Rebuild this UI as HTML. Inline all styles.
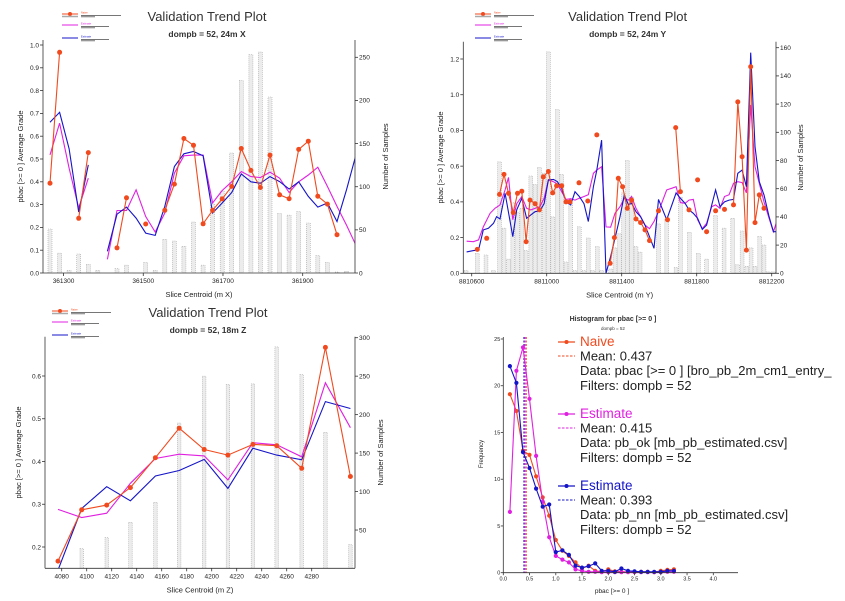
<!DOCTYPE html>
<html><head><meta charset="utf-8"><style>
html,body{margin:0;padding:0;background:#fff;}
svg{display:block;font-family:"Liberation Sans",sans-serif;}
</style></head><body>
<svg id="chart" width="845" height="601" viewBox="0 0 845 601" xmlns="http://www.w3.org/2000/svg"></svg>
<script>
// ---------- Panel 1 (X) data ----------
const p1X=[361266,361290,361314,361338,361362,361386,361410,361434,361458,361482,361506,361530,361554,361578,361602,361626,361650,361674,361698,361722,361746,361770,361794,361818,361842,361866,361890,361914,361938,361962,361986,362010,362034];
const p1Naive=[0.394,0.968,null,0.24,0.528,null,null,0.11,0.33,null,0.215,null,0.275,0.39,0.59,0.56,0.216,0.275,0.325,0.38,0.546,0.45,0.375,0.517,0.343,0.326,0.542,0.578,0.337,0.302,0.168,null,null];
const p1Ok=[0.518,0.657,0.46,0.285,0.416,null,0.06,0.274,0.274,0.365,0.248,0.18,0.263,0.438,0.514,0.517,0.517,0.307,0.362,0.40,0.445,0.423,0.419,0.442,0.416,0.353,0.40,0.43,0.464,0.38,0.292,0.21,0.12];
const p1Nn=[0.661,0.705,0.545,0.267,0.474,null,0.095,0.258,0.289,0.241,0.175,0.165,0.292,0.467,0.523,0.533,0.514,0.263,0.307,0.353,0.434,0.40,0.394,0.423,0.401,0.368,0.40,0.336,0.289,0.307,0.226,0.365,0.52];
const p1Count=[51,23,3,22,10,3,0,5,9,0,12,3,39,37,31,59,9,80,95,139,223,253,256,204,69,67,71,58,20,12,1,2,0];
const p1XTicks=[361300,361500,361700,361900];
const p1YTicks=[0,0.1,0.2,0.3,0.4,0.5,0.6,0.7,0.8,0.9,1.0];
const p1RTicks=[0,50,100,150,200,250];

// ---------- Panel 2 (Y) data ----------
const p2NaiveX=[8810630,8810680,8810748,8810772,8810796,8810822,8810844,8810867,8810890,8810911,8810938,8810961,8810982,8811009,8811032,8811053,8811080,8811103,8811124,8811172,8811219,8811267,8811338,8811361,8811382,8811405,8811430,8811453,8811476,8811501,8811524,8811548,8811596,8811644,8811688,8811713,8811759,8811805,8811853,8811901,8811948,8811996,8812019,8812042,8812065,8812088,8812111,8812134,8812159];
const p2NaiveY=[0.134,0.196,0.442,0.554,0.448,0.34,0.448,0.46,0.177,0.41,0.39,0.355,0.54,0.57,0.45,0.49,0.49,0.40,0.40,0.507,0.405,0.775,0.056,0.2,0.532,0.485,0.364,0.41,0.304,0.284,0.243,0.183,0.35,0.3,0.816,0.457,0.355,0.523,0.233,0.35,0.358,0.383,0.96,0.653,0.13,1.157,0.284,0.439,0.364];
const p2OkX=[8810573,8810609,8810636,8810662,8810698,8810724,8810751,8810778,8810796,8810819,8810840,8810867,8810893,8810915,8810938,8810964,8810986,8811009,8811036,8811057,8811080,8811103,8811128,8811151,8811174,8811199,8811222,8811249,8811267,8811293,8811316,8811341,8811364,8811391,8811414,8811436,8811453,8811476,8811501,8811524,8811548,8811572,8811596,8811640,8811666,8811690,8811713,8811738,8811759,8811782,8811805,8811830,8811853,8811880,8811901,8811924,8811948,8811973,8811996,8812019,8812042,8812065,8812088,8812111,8812134,8812159,8812186,8812209,8812227];
const p2OkY=[0.18,0.177,0.187,0.26,0.336,0.364,0.383,0.467,0.537,0.3,0.39,0.43,0.364,0.355,0.364,0.373,0.42,0.523,0.513,0.5,0.457,0.414,0.418,0.41,0.42,0.43,0.44,0.56,0.578,0.597,0.26,0.258,0.336,0.373,0.42,0.41,0.43,0.364,0.317,0.27,0.25,0.29,0.345,0.467,0.476,0.485,0.396,0.392,0.41,0.414,0.3,0.25,0.28,0.373,0.383,0.364,0.43,0.44,0.504,0.513,0.508,0.45,0.943,0.597,0.504,0.4,0.308,0.233,0.29];
const p2NnX=[8810573,8810609,8810636,8810662,8810689,8810716,8810733,8810751,8810778,8810819,8810840,8810867,8810893,8810915,8810938,8810964,8810986,8811009,8811036,8811057,8811080,8811103,8811128,8811151,8811174,8811199,8811222,8811249,8811267,8811293,8811316,8811341,8811364,8811391,8811414,8811436,8811453,8811476,8811501,8811524,8811548,8811572,8811596,8811640,8811690,8811713,8811738,8811759,8811782,8811805,8811830,8811853,8811901,8811924,8811948,8811973,8811996,8812019,8812042,8812065,8812088,8812111,8812134,8812159,8812186,8812209,8812227];
const p2NnY=[0.12,0.127,0.13,0.243,0.252,0.28,0.317,0.304,0.448,0.205,0.355,0.42,0.308,0.327,0.345,0.35,0.39,0.523,0.526,0.513,0.476,0.4,0.383,0.457,0.43,0.39,0.29,0.485,0.578,0.746,0.0,0.093,0.196,0.317,0.439,0.383,0.392,0.345,0.317,0.27,0.205,0.14,0.414,0.3,0.45,0.42,0.392,0.355,0.336,0.308,0.246,0.27,0.467,0.373,0.4,0.41,0.414,0.56,0.578,0.485,1.235,0.71,0.513,0.439,0.317,0.233,0.233];
const p2BarX=[8810570,8810630,8810676,8810716,8810748,8810772,8810796,8810819,8810844,8810867,8810890,8810915,8810938,8810961,8810986,8811009,8811032,8811057,8811080,8811103,8811128,8811151,8811174,8811199,8811222,8811245,8811270,8811293,8811341,8811364,8811389,8811410,8811430,8811453,8811476,8811498,8811596,8811640,8811690,8811713,8811761,8811809,8811853,8811901,8811946,8811992,8812017,8812042,8812067,8812090,8812111,8812136,8812159,8812182,8812209];
const p2BarN=[2,14,13,2,79,32,10,50,43,46,16,69,63,75,71,157,40,116,70,8,50,2,33,2,25,2,19,2,3,18,28,57,80,54,19,15,35,38,4,54,29,14,10,41,32,39,6,30,5,18,5,26,20,1,1];
const p2XTicks=[8810600,8811000,8811400,8811800,8812200];
const p2YTicks=[0,0.2,0.4,0.6,0.8,1.0,1.2];
const p2RTicks=[0,20,40,60,80,100,120,140,160];

// ---------- Panel 3 (Z) data ----------
const p3X=[4077,4096,4116,4135,4155,4174,4194,4213,4233,4252,4272,4291,4311];
const p3Naive=[0.167,0.287,0.298,0.339,0.409,0.478,0.428,0.415,0.44,0.437,0.384,0.667,0.365];
const p3Ok=[0.288,0.269,0.279,0.349,0.407,0.417,0.413,0.357,0.444,0.439,0.411,0.584,0.479];
const p3Nn=[0.146,0.29,0.341,0.308,0.366,0.379,0.405,0.337,0.431,0.415,0.404,0.54,0.524];
const p3Count=[0,26,40,60,86,189,250,239,240,288,252,177,31];
const p3XTicks=[4080,4100,4120,4140,4160,4180,4200,4220,4240,4260,4280];
const p3YTicks=[0.2,0.3,0.4,0.5,0.6];
const p3RTicks=[50,100,150,200,250,300];

// ---------- Panel 4 histogram data ----------
const hBins=[0.125,0.25,0.375,0.5,0.625,0.75,0.875,1.0,1.125,1.25,1.375,1.5,1.625,1.75,1.875,2.0,2.125,2.25,2.375,2.5,2.625,2.75,2.875,3.0,3.125,3.25];
const hNaive=[19.1,17.3,13.05,12.6,10.3,8.06,6.1,3.5,2.35,1.8,1.1,0.46,0.75,0.2,0.1,0.35,0.15,0.1,0.1,0.1,0.1,0.1,0.05,0.2,0.3,0.35];
const hOk=[6.5,21.6,24.1,18.6,12.5,7.6,3.8,1.8,1.4,1.1,0.35,0.2,0.1,0.1,0.05,0.05,0.05,0.05,0.05,0.05,0.05,0.05,0.05,0.05,0.1,0.1];
const hNn=[22.1,20.3,12.9,11.2,9.0,7.06,7.3,2.2,2.4,1.9,0.75,0.55,0.7,1.0,0.2,0.2,0.1,0.45,0.2,0.15,0.1,0.1,0.1,0.1,0.2,0.2];
const hMeans=[0.437,0.415,0.393];
const hXTicks=[0,0.5,1.0,1.5,2.0,2.5,3.0,3.5,4.0];
const hYTicks=[0,5,10,15,20,25];

const C_NAIVE='#f04a1e', C_OK='#e020e0', C_NN='#1414c8';
const NS='http://www.w3.org/2000/svg';
const svg=document.getElementById('chart');
function el(tag,attrs,parent){const e=document.createElementNS(NS,tag);for(const k in attrs)e.setAttribute(k,attrs[k]);(parent||svg).appendChild(e);return e;}
function lin(d0,d1,r0,r1){return v=>r0+(v-d0)*(r1-r0)/(d1-d0);}
function txt(x,y,s,size,opts,parent){const t=el('text',Object.assign({x:x,y:y,'font-size':size,fill:'#222'},opts||{}),parent);t.textContent=s;return t;}
function linePath(xs,ys,sx,sy,maxGap){let d='';let prev=null;for(let i=0;i<xs.length;i++){if(ys[i]===null||ys[i]===undefined){prev=null;continue;}const px=sx(xs[i]).toFixed(1),py=sy(ys[i]).toFixed(1);if(prev!==null&&xs[i]-prev<=maxGap)d+='L'+px+' '+py;else d+='M'+px+' '+py;prev=xs[i];}return d;}

function trend(cfg){
  const g=el('g',{});
  
  
  const {L,R,T,B,sx,sy,sr}=cfg;
  const cid='clip-'+cfg.name;
  const cp=el('clipPath',{id:cid},g);el('rect',{x:L,y:T-5,width:R-L,height:B-T+5},cp);
  const t=txt((L+R)/2+8,cfg.titleY,'Validation Trend Plot',13,{'text-anchor':'middle',fill:'#333'},g);
  
  
  const st=txt((L+R)/2+8,cfg.titleY+16,cfg.sub,8.5,{'text-anchor':'middle','font-weight':'bold',fill:'#333'},g);
  
  
  const bg=el('g',{'clip-path':'url(#'+cid+')'},g);
  
  
  for(let i=0;i<cfg.barX.length;i++){const n=cfg.barN[i];if(!n)continue;const x=sx(cfg.barX[i]);const y=sr(n);
    const b=el('rect',{x:(x-cfg.bw/2).toFixed(1),y:y.toFixed(1),width:cfg.bw,height:(sr(0)-y).toFixed(1),fill:'#ececec',stroke:'#aaa','stroke-width':0.6,'stroke-dasharray':'1 1'},bg);
    
    
  }
  const lg=el('g',{'clip-path':'url(#'+cid+')'},g);
  const series=[[cfg.okX,cfg.okY,C_OK,'estimate-ok-line',cfg.estGap],[cfg.nnX,cfg.nnY,C_NN,'estimate-nn-line',cfg.estGap],[cfg.nvX,cfg.nvY,C_NAIVE,'naive-line',cfg.nvGap]];
  for(const s of series){const p=el('path',{d:linePath(s[0],s[1],sx,sy,s[4]),fill:'none',stroke:s[2],'stroke-width':1.1},lg);
    
    }
  for(let i=0;i<cfg.nvX.length;i++){const v=cfg.nvY[i];if(v===null)continue;
    const c=el('circle',{cx:sx(cfg.nvX[i]).toFixed(1),cy:sy(v).toFixed(1),r:2.5,fill:C_NAIVE},lg);
    
    }
  const ax=el('g',{stroke:'#333','stroke-width':0.8,fill:'none'},g);
  el('line',{x1:L,y1:T,x2:L,y2:B},ax);el('line',{x1:R,y1:T,x2:R,y2:B},ax);el('line',{x1:L,y1:B,x2:R,y2:B},ax);
  for(const v of cfg.yTicks){const y=sy(v);el('line',{x1:L-3,y1:y,x2:L,y2:y},ax);
    const tl=txt(L-4,y+2.3,cfg.yFmt(v),6.5,{'text-anchor':'end'},g);
    
    }
  for(const v of cfg.rTicks){const y=sr(v);el('line',{x1:R,y1:y,x2:R+3,y2:y},ax);
    const tl=txt(R+4,y+2.3,String(v),6.5,{},g);
    
    }
  for(const v of cfg.xTicks){const x=sx(v);el('line',{x1:x,y1:B,x2:x,y2:B+3},ax);
    const tl=txt(x,B+10,String(v),6.5,{'text-anchor':'middle'},g);
    
    }
  const xt=txt((L+R)/2,B+24,cfg.xTitle,7.5,{'text-anchor':'middle'},g);
  
  
  const my=(T+B)/2;
  const yt=txt(0,0,'pbac [>= 0 ] Average Grade',7.5,{'text-anchor':'middle',transform:'translate('+cfg.yTitleX+','+my+') rotate(-90)'},g);
  
  
  const rt=txt(0,0,'Number of Samples',7.5,{'text-anchor':'middle',transform:'translate('+cfg.rTitleX+','+my+') rotate(-90)'},g);
  
  
  const lgd=el('g',{},g);
  
  
  const lx=cfg.legX,ly=cfg.legY;
  const items=[[C_NAIVE,0,'Naive'],[C_OK,11,'Estimate'],[C_NN,24,'Estimate']];
  for(const it of items){el('line',{x1:lx,y1:ly+it[1],x2:lx+16,y2:ly+it[1],stroke:it[0],'stroke-width':1},lgd);
    txt(lx+19,ly+it[1]-0.5,it[2],2.6,{fill:it[0]},lgd);
    el('rect',{x:lx+19,y:ly+it[1]+1,width:it[0]===C_NAIVE?40:28,height:0.8,fill:'#555'},lgd);
    el('rect',{x:lx+19,y:ly+it[1]+2.4,width:14,height:0.8,fill:'#555'},lgd);}
  el('circle',{cx:lx+8,cy:ly,r:2,fill:C_NAIVE},lgd);
  el('line',{x1:lx,y1:ly+2.5,x2:lx+16,y2:ly+2.5,stroke:'#aaa','stroke-width':1.5},lgd);
}

trend({name:'trend-x-panel',L:43,R:355,T:40,B:273,
  sx:lin(361266,362034,50,356.1),sy:lin(0,1,273,45),sr:lin(0,250,273,57.3),
  titleY:21,sub:'dompb = 52, 24m X',barX:p1X,barN:p1Count,bw:4,
  nvX:p1X,nvY:p1Naive,okX:p1X,okY:p1Ok,nnX:p1X,nnY:p1Nn,nvGap:50,estGap:30,
  xTicks:p1XTicks,yTicks:p1YTicks,rTicks:p1RTicks,yFmt:v=>v.toFixed(1),
  xTitle:'Slice Centroid (m X)',yTitleX:23,rTitleX:388,legX:62,legY:14});

trend({name:'trend-y-panel',L:463.3,R:776,T:41.7,B:273.3,
  sx:lin(8811000,8811400,546.7,621.7),sy:lin(0,1.2,273.3,59),sr:lin(0,160,273.3,47.7),
  titleY:21,sub:'dompb = 52, 24m Y',barX:p2BarX,barN:p2BarN,bw:3.8,
  nvX:p2NaiveX,nvY:p2NaiveY,okX:p2OkX,okY:p2OkY,nnX:p2NnX,nnY:p2NnY,nvGap:35,estGap:60,
  xTicks:p2XTicks,yTicks:p2YTicks,rTicks:p2RTicks,yFmt:v=>v.toFixed(1),
  xTitle:'Slice Centroid (m Y)',yTitleX:443,rTitleX:803,legX:475,legY:14});

trend({name:'trend-z-panel',L:45,R:355,T:336.7,B:568.3,
  sx:lin(4080,4280,61.7,311.7),sy:lin(0.2,0.6,547,376),sr:lin(0,300,568.5,337.7),
  titleY:317,sub:'dompb = 52, 18m Z',barX:p3X,barN:p3Count,bw:3.5,
  nvX:p3X,nvY:p3Naive,okX:p3X,okY:p3Ok,nnX:p3X,nnY:p3Nn,nvGap:30,estGap:30,
  xTicks:p3XTicks,yTicks:p3YTicks,rTicks:p3RTicks,yFmt:v=>v.toFixed(1),
  xTitle:'Slice Centroid (m Z)',yTitleX:21,rTitleX:383,legX:52,legY:311});

(function(){
  const g=el('g',{});
  
  
  const L=503.3,B=572.7;
  const sx=lin(0,4,503.3,713.3), sy=lin(0,25,572.7,339);
  const t=txt(613,321,'Histogram for pbac [>= 0 ]',7,{'text-anchor':'middle','font-weight':'bold',fill:'#333'},g);
  
  
  const s=txt(613,330,'dompb = 52',4.5,{'text-anchor':'middle',fill:'#333'},g);
  
  
  const cols=[C_NAIVE,C_OK,C_NN];
  for(let i=0;i<hMeans.length;i++){const x=sx(hMeans[i]);
    const m=el('line',{x1:x,y1:337,x2:x,y2:B,stroke:cols[i],'stroke-width':1,'stroke-dasharray':'2 1.5'},g);
    
    }
  const sers=[[hNaive,C_NAIVE,'naive-freq-line'],[hOk,C_OK,'estimate-ok-freq-line'],[hNn,C_NN,'estimate-nn-freq-line']];
  for(const se of sers){
    const p=el('path',{d:linePath(hBins,se[0],sx,sy,1),fill:'none',stroke:se[1],'stroke-width':1.1},g);
    
    
    for(let i=0;i<hBins.length;i++){const c=el('circle',{cx:sx(hBins[i]).toFixed(1),cy:sy(se[0][i]).toFixed(1),r:2.1,fill:se[1]},g);
      
      }
  }
  const ax=el('g',{stroke:'#333','stroke-width':0.8},g);
  el('line',{x1:L,y1:337,x2:L,y2:B},ax);el('line',{x1:L,y1:B,x2:738,y2:B},ax);
  for(const v of hYTicks){const y=sy(v);el('line',{x1:L-2.5,y1:y,x2:L,y2:y},ax);
    const tl=txt(L-3,y+2,String(v),5.5,{'text-anchor':'end'},g);
    
    }
  for(const v of hXTicks){const x=sx(v);el('line',{x1:x,y1:B,x2:x,y2:B+2.5},ax);
    const tl=txt(x,B+8,v.toFixed(1),5.5,{'text-anchor':'middle'},g);
    
    }
  const xt=txt(612,593,'pbac [>= 0 ]',6.5,{'text-anchor':'middle'},g);
  
  
  const yt=txt(0,0,'Frequency',6,{'text-anchor':'middle',transform:'translate(483,454) rotate(-90)'},g);
  
  
  const lg=el('g',{},g);
  
  
  const blocks=[[C_NAIVE,346,'Naive','Mean: 0.437','Data: pbac [>= 0 ] [bro_pb_2m_cm1_entry_'],
                [C_OK,418,'Estimate','Mean: 0.415','Data: pb_ok [mb_pb_estimated.csv]'],
                [C_NN,490,'Estimate','Mean: 0.393','Data: pb_nn [mb_pb_estimated.csv]']];
  for(const b of blocks){const y=b[1];
    el('line',{x1:558,y1:y-4,x2:575,y2:y-4,stroke:b[0],'stroke-width':1.2},lg);
    el('circle',{cx:566.5,cy:y-4,r:2,fill:b[0]},lg);
    txt(580,y,b[2],13.5,{fill:b[0]},lg);
    el('line',{x1:558,y1:y+10,x2:575,y2:y+10,stroke:b[0],'stroke-width':1,'stroke-dasharray':'2.5 1.5'},lg);
    txt(580,y+14.5,b[3],13,{fill:'#222'},lg);
    txt(580,y+29,b[4],13,{fill:'#222'},lg);
    txt(580,y+44,'Filters: dompb = 52',13,{fill:'#222'},lg);
  }
})();
</script>
</body></html>
